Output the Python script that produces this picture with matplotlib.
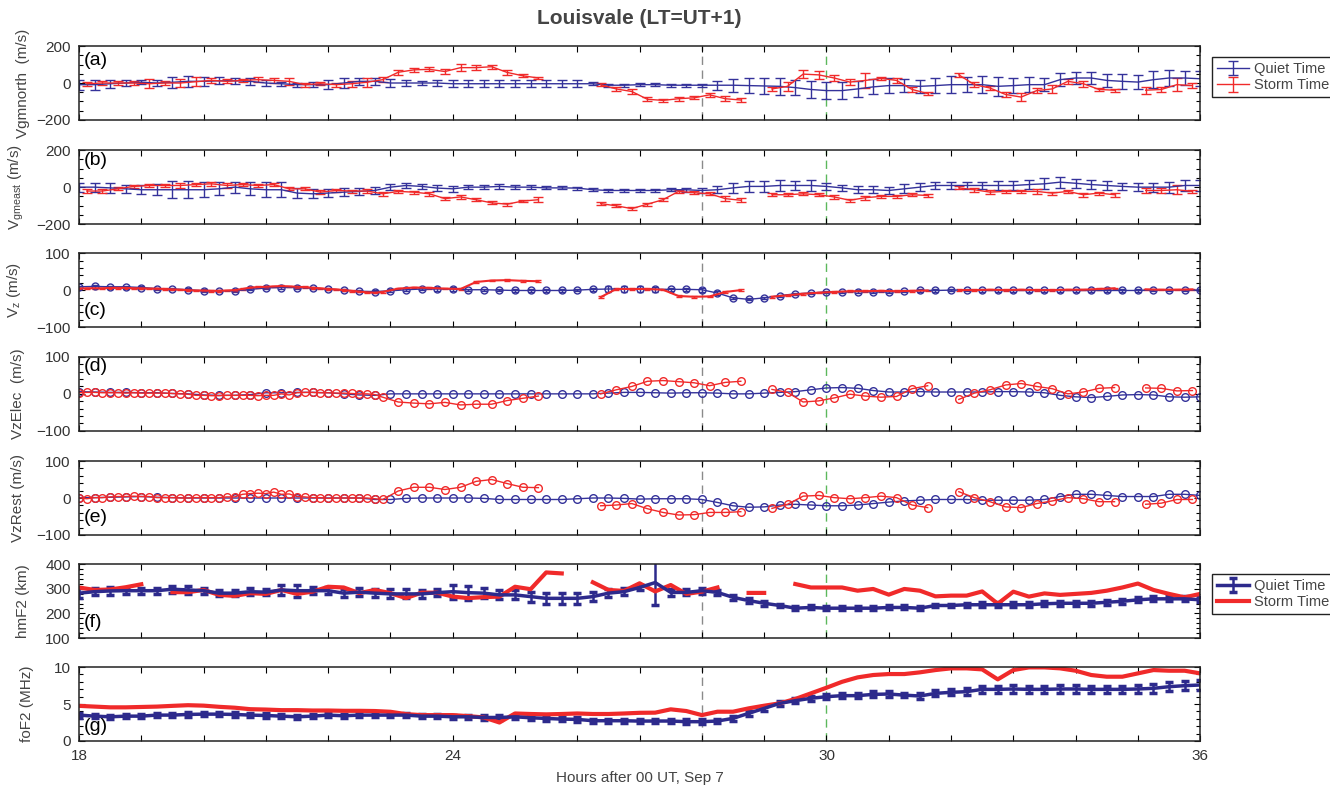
import numpy as np
import matplotlib
matplotlib.use('Agg')
import matplotlib.pyplot as plt
from matplotlib.ticker import MultipleLocator, FixedLocator, FuncFormatter

plt.rcParams['font.family'] = ['Liberation Sans', 'DejaVu Sans']

nan = np.nan

# time grids (hours after 00 UT, Sep 7)
t_quiet = 18 + 0.25 * np.arange(73)
t_storm = 18.125 + 0.25 * np.arange(72)
t_storm_dense = np.concatenate([18 + 0.125 * np.arange(40), 23.125 + 0.25 * np.arange(52)])
t_storm_f = 18 + 0.25 * np.arange(73)

# (a) Vgmnorth
quiet_vn = [-9, -9, -4, 0, 4, 0, 4, 9, 9, 12, 12, 9, 0, -4, -9, -9, -9, 0, 9, 9, 0, 0, 0, 0, -4,
            -4, -4, -4, -4, -4, -4, -4, -4, -4, -12, -12, -9, -9, -12, -12, -12,
            -12, -12, -14, -16, -18, -25, -35, -41, -41, -32, -21, -14, -14, -18, -14, -9,
            -9, -9, -18, -14, -9, -9, 18, 27, 27, 14, 9, 5, 18, 27, 27, 23]
quiet_vn_err = [27, 27, 22, 18, 12, 18, 30, 30, 25, 20, 15, 18, 15, 12, 10, 12, 25, 25, 20, 20, 22, 18, 12, 18, 18,
                18, 18, 18, 18, 18, 18, 18, 18, 9, 9, 9, 9, 9, 9, 9, 9,
                25, 35, 40, 45, 45, 40, 45, 45, 45, 45, 40, 40, 35, 35, 40, 45,
                40, 45, 50, 40, 40, 35, 35, 30, 35, 35, 40, 40, 45, 45, 40, 40]
storm_vn = [-4, 0, 0, 0, -4, 0, 0, 7, 14, 9, 14, 18, 14, 9, -9, -4, -9, -4, 4, 18,
            58, 71, 74, 62, 83, 83, 88, 57, 39, 27, nan, nan, nan, -9, -32, -46, -88, -94, -85, -80,
            -64, -85, -92, nan, -32, -18, 48, 44, 27, 5, 14, 25, 14, -35, -57, nan, 44, -9, -27, -62,
            -76, -41, -32, 9, -4, -35, -39, nan, -39, -35, -9, -14]
storm_vn_err = [10, 10, 12, 10, 25, 12, 20, 25, 12, 10, 10, 12, 15, 20, 10, 8, 10, 15, 25, 12,
                15, 12, 10, 12, 20, 12, 10, 12, 8, 8, 8, 8, 8, 8, 10, 12, 10, 8, 10, 8,
                10, 15, 12, 8, 10, 25, 20, 20, 15, 15, 40, 10, 15, 12, 10, 8, 10, 12, 10, 15,
                20, 12, 20, 15, 15, 10, 8, 8, 20, 15, 35, 15]

# (b) Vgmeast
quiet_ve = [0, 0, -4, -9, -14, -14, -14, -14, -14, -9, 0, -9, -14, -14, -32, -36, -32, -27, -23, -18, 0, 9, 4, -5, -9,
            0, 0, 4, 0, 0, -4, -4, -5, -14, -18, -18, -18, -18, -14, -14, -18,
            -14, -4, 4, 4, 9, 9, 9, 4, -4, -14, -14, -18, -9, 0, 9, 9,
            9, 9, 9, 9, 14, 18, 27, 21, 14, 9, 4, 0, 0, 0, 9, 9]
quiet_ve_err = [25, 25, 25, 20, 25, 30, 45, 45, 40, 35, 30, 35, 40, 40, 25, 25, 20, 20, 20, 20, 15, 15, 15, 15, 15,
                12, 12, 12, 10, 10, 8, 8, 8, 8, 8, 8, 8, 8, 8, 10, 15,
                20, 25, 30, 30, 30, 25, 30, 20, 15, 20, 20, 20, 25, 20, 20, 20,
                20, 20, 25, 25, 25, 30, 30, 25, 25, 25, 20, 20, 25, 30, 30, 30]
storm_ve = [-21, -21, -9, 4, 9, 9, 9, 14, 18, 9, 14, 9, 14, -9, -9, -27, -18, -21, -21, -36,
            -23, -27, -36, -62, -53, -68, -85, -92, -75, -68, nan, nan, nan, -89, -101, -116, -92, -68, -23, -30,
            -36, -62, -71, nan, -41, -41, -36, -41, -53, -71, -57, -50, -50, -41, -45, nan, -4, -14, -27, -23,
            -23, -23, -32, -23, -41, -32, -41, nan, -18, -18, -14, -23]
storm_ve_err = [12, 10, 8, 8, 10, 8, 12, 8, 10, 15, 10, 8, 10, 8, 8, 10, 8, 8, 10, 10,
                8, 8, 10, 10, 10, 8, 8, 8, 8, 15, 8, 8, 8, 8, 8, 8, 8, 8, 8, 8,
                8, 12, 10, 8, 8, 8, 8, 8, 10, 8, 10, 8, 10, 8, 8, 8, 8, 10, 10, 8,
                10, 12, 8, 8, 10, 8, 10, 8, 15, 12, 25, 8]

# (c) Vz
quiet_vz = [9, 10, 9, 9, 7, 4, 3, 1, -2, -2, -2, 2, 6, 7, 7, 5, 3, 0, -3, -4, -2, 1, 3, 3, 3,
            1, 1, 0, -1, -1, -1, -1, 0, 2, 3, 3, 2, 2, 2, 2, 1,
            -8, -21, -25, -21, -15, -10, -8, -5, -5, -4, -5, -5, -3, -1, -1, 0,
            0, -1, -1, -1, -1, -1, -1, -1, -1, -1, -1, -1, 0, 0, 0, 0]
quiet_vz_err = [3, 3, 3, 3, 3, 3, 4, 4, 4, 3, 3, 3, 3, 3, 3, 3, 3, 3, 3, 3, 4, 4, 4, 5, 6,
                3, 3, 3, 3, 3, 3, 3, 3, 5, 8, 9, 8, 6, 5, 5, 6,
                5, 3, 3, 3, 3, 3, 3, 3, 3, 3, 3, 3, 3, 3, 3, 3,
                3, 3, 3, 3, 3, 3, 3, 3, 3, 3, 3, 3, 3, 3, 3, 3]
storm_vz = [4, 5, 5, 5, 6, 6, 6, 5, 5, 4, 4, 3, 2, 1, 0, -1, -1, -2, -2, -1, 0, 3, 7, 8,
            9, 10, 11, 10, 9, 8, 6, 5, 3, 2, 0, -2, -4, -6, -7, -5,
            4, 7, 6, 4, 3, 22, 26, 27, 25, 24, nan, nan, nan,
            -19, 3, 3, 3, 1, -16, -18, -17, -5, 0, nan,
            -18, -14, -10, -7, -5, -3, -3, -2, -3, -2, -1, nan,
            0, 0, 1, 0, 1, 0, 0, 1, 1, 3, 5, nan, 2, 1, 1, 2]
storm_vz_err = 2

# (d) VzElec
quiet_vzelec = [6, 5, 4, 4, 3, 3, 1, 0, -3, -4, -4, -2, 3, 3, 4, 4, 3, 0, -3, -4, 0, 0, 0, 0, 0,
                0, 0, 0, 0, 0, 0, 0, 0, 0, 2, 4, 4, 3, 2, 3, 3,
                2, 0, 0, 2, 4, 6, 11, 16, 17, 15, 9, 5, 5, 6, 5, 5,
                5, 5, 6, 6, 5, 3, -4, -8, -10, -7, -3, -2, -3, -8, -9, -8]
storm_vzelec = [3, 4, 4, 3, 3, 3, 2, 3, 2, 2, 2, 2, 1, 0, -1, -4, -4, -5, -5, -4,
                -4, -4, -4, -5, -4, -4, 0, -3, 3, 4, 4, 3, 3, 2, 2, 1, 0, 0, -2, -9,
                -22, -25, -27, -23, -30, -28, -28, -18, -12, -6, nan, nan, nan,
                0, 11, 20, 34, 36, 33, 30, 22, 31, 34, nan,
                12, 4, -22, -19, -11, -1, -6, -9, -7, 14, 22, nan,
                -15, 2, 11, 24, 28, 20, 14, 0, 5, 15, 17, nan, 16, 15, 8, 9]

# (e) VzRest
quiet_vzrest = [1, 1, 2, 3, 4, 2, 1, 0, 0, 0, 0, 0, 0, 0, 0, 0, 0, 0, 0, -4, -4, -1, 0, 0, 0,
                0, -1, -4, -4, -4, -4, -4, -2, 0, 0, -1, -3, -2, -2, -2, -4,
                -12, -21, -25, -24, -19, -17, -19, -21, -21, -19, -15, -11, -8, -6, -4, -4,
                -4, -6, -6, -6, -6, -4, 4, 10, 10, 7, 4, 4, 4, 10, 10, 7]
storm_vzrest = [1, -2, 1, 1, 3, 4, 4, 5, 4, 4, 1, 1, 1, 0, 0, 1, 1, 1, 1, 3,
                3, 10, 12, 13, 12, 16, 10, 11, 4, 3, 1, 1, -1, 0, 0, 0, 0, 0, -2, -4,
                19, 29, 29, 23, 29, 45, 50, 39, 29, 28, nan, nan, nan,
                -21, -19, -15, -29, -39, -46, -45, -39, -39, -37, nan,
                -28, -17, 5, 7, 1, -2, 1, 5, 1, -19, -26, nan,
                17, 1, -10, -24, -26, -15, -8, 1, -2, -10, -10, nan, -17, -14, -4, -4]

# (f) hmF2
quiet_hmf2 = [282, 288, 291, 292, 292, 292, 298, 295, 292, 282, 282, 288, 286, 295, 292, 292, 292, 282, 286, 282,
              279, 279, 279, 284, 288, 284, 282, 275, 275, 268, 261, 261, 261, 268, 282, 288, 305,
              325, 285, 285, 292, 285, 265, 252, 241, 232, 221, 224, 221, 221, 221, 221, 224,
              224, 221, 232, 232, 235, 235, 235, 235, 235, 239, 241, 241, 241, 245, 249, 255, 259, 259, 259, 255]
quiet_hmf2_err = [20, 15, 15, 12, 12, 12, 15, 15, 12, 12, 12, 15, 12, 20, 25, 15, 15, 15, 15, 15, 18, 18, 15, 15, 28,
                  28, 20, 18, 18, 20, 22, 22, 22, 18, 15, 15, 10, 90, 15, 12, 12,
                  10, 10, 10, 10, 8, 8, 8, 8, 8, 8, 8, 8, 8, 8, 8, 8,
                  8, 10, 10, 10, 10, 10, 10, 10, 10, 10, 10, 10, 10, 10, 10, 10]
storm_hmf2 = [305, 295, 297, 306, 318, nan, 286, 286, 295, 275, 271, 282, 279, 295, 279, 288, 308, 305, 282, 295,
              282, 262, 284, 284, 268, 262, 266, 268, 308, 298, 366, 362, nan, 326, 295, 291, 322,
              289, 315, 279, 288, 305, nan, 283, 283, nan, 319, 305, 305, 305, 292, 299, 276,
              299, 292, 269, 272, 272, 289, 239, 288, 268, 281, 275, 279, 283, 292, 305, 321, 295, 279, 265, 279]

# (g) foF2
quiet_fof2 = [3.5, 3.36, 3.27, 3.36, 3.36, 3.5, 3.5, 3.59, 3.63, 3.63, 3.59, 3.5, 3.45, 3.36, 3.27, 3.36, 3.5,
              3.41, 3.5, 3.5, 3.5, 3.5, 3.36, 3.36, 3.27, 3.27, 3.18, 3.18, 3.27, 3.14, 3.05, 2.96, 2.92,
              2.74, 2.74, 2.74, 2.69, 2.7, 2.7, 2.61, 2.61, 2.7, 3.06, 3.74, 4.41, 5.09, 5.45, 5.77, 5.99,
              6.13, 6.13, 6.3, 6.35, 6.2, 6.08, 6.44, 6.58, 6.67, 6.98, 6.98, 7.03, 6.98, 6.98, 7.03, 7.03,
              6.98, 6.98, 6.98, 7.03, 7.12, 7.34, 7.48, 7.57]
quiet_fof2_err = [0.35, 0.3, 0.3, 0.3, 0.3, 0.3, 0.3, 0.3, 0.3, 0.3, 0.3, 0.3, 0.3, 0.3, 0.3, 0.3, 0.3,
                  0.3, 0.3, 0.3, 0.3, 0.3, 0.3, 0.3, 0.3, 0.3, 0.3, 0.3, 0.3, 0.3, 0.3, 0.3, 0.3,
                  0.3, 0.3, 0.3, 0.3, 0.3, 0.3, 0.3, 0.3, 0.3, 0.3, 0.3, 0.3, 0.3, 0.3, 0.3, 0.3,
                  0.3, 0.3, 0.4, 0.4, 0.3, 0.4, 0.4, 0.4, 0.5, 0.5, 0.5, 0.5, 0.5, 0.5, 0.5, 0.5,
                  0.5, 0.5, 0.5, 0.5, 0.6, 0.6, 0.6, 0.7]
storm_fof2 = [4.75, 4.65, 4.55, 4.55, 4.6, 4.65, 4.75, 4.84, 4.78, 4.62, 4.5, 4.3, 4.25, 4.17, 4.17, 4.12, 4.12,
              4.08, 4.08, 4.05, 3.95, 3.63, 3.5, 3.5, 3.5, 3.36, 3.18, 2.5, 3.72, 3.65, 3.6, 3.65, 3.72,
              3.65, 3.65, 3.72, 3.81, 3.83, 4.28, 4.05, 3.5, 3.96, 3.96, 4.41, 4.77, 5.09, 5.68, 6.44, 7.2,
              8.0, 8.6, 8.92, 9.05, 9.05, 9.28, 9.59, 9.82, 9.82, 9.68, 8.33, 9.59, 9.95, 9.95, 9.82, 9.5,
              8.92, 8.69, 8.69, 9.14, 9.59, 9.5, 9.5, 9.14]

BLUE = '#34329a'
BLUE_DARK = '#2d2a8c'
RED = '#f02a2a'
TXT = '#444444'

fig = plt.figure(figsize=(13.3, 7.92), dpi=100)
left, width, height = 0.0594, 0.843, 0.0934
bottoms = [0.8485, 0.717, 0.587, 0.456, 0.3245, 0.1944, 0.0644]
axes = [fig.add_axes([left, b, width, height]) for b in bottoms]
ax_a, ax_b, ax_c, ax_d, ax_e, ax_f, ax_g = axes

# (a) and (b): thin errorbars
ha_q = ax_a.errorbar(t_quiet, quiet_vn, yerr=quiet_vn_err, color=BLUE, lw=1, elinewidth=1, capsize=3.5, capthick=1)
ha_s = ax_a.errorbar(t_storm, storm_vn, yerr=storm_vn_err, color=RED, lw=1, elinewidth=1, capsize=3.5, capthick=1)
ax_b.errorbar(t_quiet, quiet_ve, yerr=quiet_ve_err, color=BLUE, lw=1, elinewidth=1, capsize=3.5, capthick=1)
ax_b.errorbar(t_storm, storm_ve, yerr=storm_ve_err, color=RED, lw=1, elinewidth=1, capsize=3.5, capthick=1)

# (c) Vz with circles
ax_c.errorbar(t_quiet, quiet_vz, yerr=quiet_vz_err, color=BLUE, lw=1, elinewidth=1, capsize=2.5,
              marker='o', mfc='none', ms=5, mew=1)
ax_c.errorbar(t_storm_dense, storm_vz, yerr=storm_vz_err, color=RED, lw=1.5, elinewidth=1, capsize=2)

# (d), (e)
ax_d.plot(t_quiet, quiet_vzelec, color=BLUE, lw=1, marker='o', mfc='none', ms=5.5, mew=1)
ax_d.plot(t_storm_dense, storm_vzelec, color=RED, lw=1, marker='o', mfc='none', ms=5.5, mew=1)
ax_e.plot(t_quiet, quiet_vzrest, color=BLUE, lw=1, marker='o', mfc='none', ms=5.5, mew=1)
ax_e.plot(t_storm_dense, storm_vzrest, color=RED, lw=1, marker='o', mfc='none', ms=5.5, mew=1)

# (f), (g): thick lines
hf_q = ax_f.errorbar(t_quiet, quiet_hmf2, yerr=quiet_hmf2_err, color=BLUE_DARK, lw=2.5, elinewidth=1.8,
                     capsize=3, capthick=2.5)
hf_s, = ax_f.plot(t_storm_f, storm_hmf2, color=RED, lw=3)
ax_g.errorbar(t_quiet, quiet_fof2, yerr=quiet_fof2_err, color=BLUE_DARK, lw=2.5, elinewidth=1.8,
              capsize=3, capthick=2.5)
ax_g.plot(t_storm_f, storm_fof2, color=RED, lw=3)

ylims = [(-200, 200), (-200, 200), (-100, 100), (-100, 100), (-100, 100), (100, 400), (0, 10)]
yticks = [[-200, 0, 200], [-200, 0, 200], [-100, 0, 100], [-100, 0, 100], [-100, 0, 100],
          [100, 200, 300, 400], [0, 5, 10]]
yminor = [50, 50, 20, 20, 20, 20, 1]
ylabels = ['Vgmnorth  (m/s)', r'V$_{\mathregular{gmeast}}$ (m/s)', r'V$_{\mathregular{z}}$ (m/s)',
           'VzElec  (m/s)', 'VzRest (m/s)', 'hmF2 (km)', 'foF2 (MHz)']
label_x = [-0.044, -0.047, -0.05, -0.048, -0.048, -0.044, -0.040]
panel = ['(a)', '(b)', '(c)', '(d)', '(e)', '(f)', '(g)']
panel_y = [0.81, 0.865, 0.23, 0.865, 0.23, 0.21, 0.19]

for i, ax in enumerate(axes):
    ax.axvline(28, color='#8a8a8a', lw=1, ls=(0, (6, 4)), zorder=1.5)
    ax.axvline(30, color='#5cb85c', lw=1, ls=(0, (6, 4)), zorder=1.5)
    ax.set_xlim(18, 36)
    ax.set_ylim(*ylims[i])
    ax.yaxis.set_major_locator(FixedLocator(yticks[i]))
    ax.yaxis.set_minor_locator(MultipleLocator(yminor[i]))
    ax.xaxis.set_major_locator(FixedLocator(range(18, 37)))
    if i == len(axes) - 1:
        ax.xaxis.set_major_formatter(FuncFormatter(lambda v, p: '%d' % v if int(v) % 6 == 0 else ''))
    else:
        ax.set_xticklabels([])
    ax.tick_params(which='both', direction='in', top=True, right=True, labelsize=11,
                   labelcolor='#333333', width=0.8)
    ax.tick_params(which='major', length=4.5)
    ax.tick_params(which='minor', length=3)
    ax.tick_params(axis='y', which='major', pad=6)
    ax.tick_params(axis='x', which='major', pad=6)
    for s in ax.spines.values():
        s.set_linewidth(1.1)
        s.set_color('#222222')
    ax.set_ylabel(ylabels[i], fontsize=11, color=TXT)
    ax.yaxis.set_label_coords(label_x[i], 0.5)
    ax.text(0.004, panel_y[i], panel[i], transform=ax.transAxes, fontsize=14, va='center', ha='left')

leg_a = ax_a.legend([ha_q, ha_s], ['Quiet Time', 'Storm Time'], loc='upper left', bbox_to_anchor=(1.0107, 0.851),
                    borderaxespad=0, fontsize=10.5, fancybox=False, edgecolor='#222222', framealpha=1,
                    handlelength=2.2, handletextpad=0.3, labelspacing=0.15, borderpad=0.35)
leg_a.get_frame().set_linewidth(1)
for t in leg_a.get_texts():
    t.set_color(TXT)
leg_f = ax_f.legend([hf_q, hf_s], ['Quiet Time', 'Storm Time'], loc='upper left', bbox_to_anchor=(1.0107, 0.867),
                    borderaxespad=0, fontsize=10.5, fancybox=False, edgecolor='#222222', framealpha=1,
                    handlelength=2.2, handletextpad=0.3, labelspacing=0.15, borderpad=0.35)
leg_f.get_frame().set_linewidth(1)
for t in leg_f.get_texts():
    t.set_color(TXT)

fig.text(0.481, 0.977, 'Louisvale (LT=UT+1)', ha='center', va='center', fontsize=15, fontweight='bold', color=TXT)
fig.text(0.481, 0.018, 'Hours after 00 UT, Sep 7', ha='center', va='center', fontsize=11, color=TXT)

fig.savefig('out.png', dpi=100)
